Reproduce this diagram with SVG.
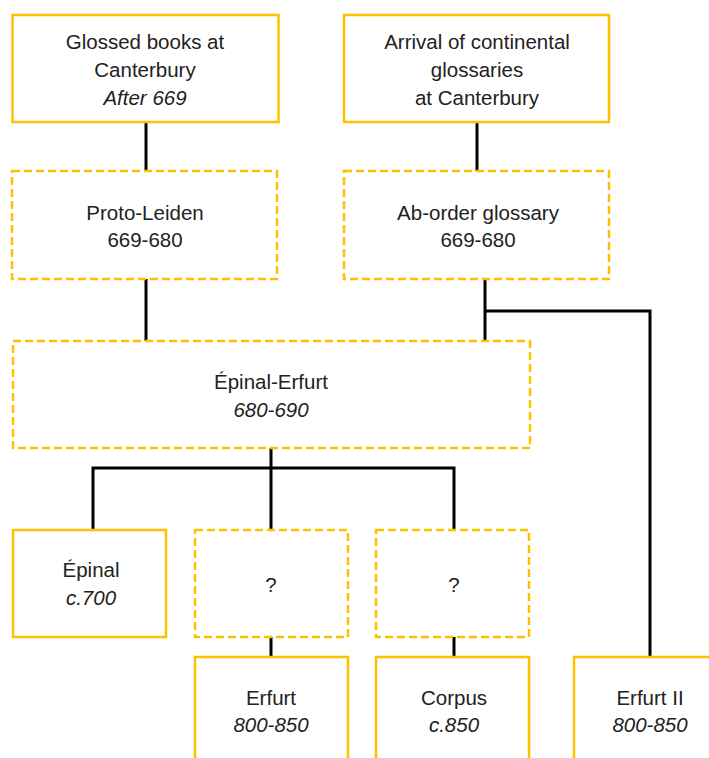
<svg xmlns="http://www.w3.org/2000/svg" width="709" height="758" viewBox="0 0 709 758">
<style>
.box{fill:#fff;stroke:#FFC000;stroke-width:2.5}
.dash{fill:#fff;stroke:#FFC000;stroke-width:2.5;stroke-dasharray:8 4}
.c{fill:none;stroke:#000;stroke-width:3}
text{font-family:"Liberation Sans",Arial,sans-serif;font-size:20.5px;fill:#222;text-anchor:middle}
.i{font-style:italic}
</style>
<rect width="709" height="758" fill="#fff"/>
<g id="connectors">
<line class="c" x1="146" y1="122" x2="146" y2="171"/>
<line class="c" x1="477" y1="122" x2="477" y2="171"/>
<line class="c" x1="146" y1="279" x2="146" y2="341"/>
<line class="c" x1="485" y1="279" x2="485" y2="341"/>
<polyline class="c" points="485,311 650,311 650,657"/>
<line class="c" x1="271" y1="448" x2="271" y2="530"/>
<polyline class="c" points="93,530 93,468 454,468 454,530"/>
<line class="c" x1="271" y1="637" x2="271" y2="657"/>
<line class="c" x1="454" y1="637" x2="454" y2="657"/>
</g>
<g id="glossed">
<rect class="box" x="12.5" y="15" width="266" height="107"/>
<text x="145" y="49">Glossed books at</text>
<text x="145" y="77">Canterbury</text>
<text x="145" y="105" class="i">After 669</text>
</g>
<g id="arrival">
<rect class="box" x="344" y="15" width="265" height="107"/>
<text x="477" y="49">Arrival of continental</text>
<text x="477" y="77">glossaries</text>
<text x="477" y="105">at Canterbury</text>
</g>
<g id="proto-leiden">
<rect class="dash" x="12" y="171" width="265" height="108"/>
<text x="145" y="220">Proto-Leiden</text>
<text x="145" y="247">669-680</text>
</g>
<g id="ab-order">
<rect class="dash" x="344" y="171" width="265" height="108"/>
<text x="478" y="220">Ab-order glossary</text>
<text x="478" y="247">669-680</text>
</g>
<g id="epinal-erfurt">
<rect class="dash" x="13" y="341" width="517" height="107"/>
<text x="271" y="389">Épinal-Erfurt</text>
<text x="271" y="417" class="i">680-690</text>
</g>
<g id="epinal">
<rect class="box" x="13" y="530" width="153" height="107"/>
<text x="91" y="577">Épinal</text>
<text x="91" y="605" class="i">c.700</text>
</g>
<g id="q1">
<rect class="dash" x="195" y="530" width="153" height="107"/>
<text x="271" y="592">?</text>
</g>
<g id="q2">
<rect class="dash" x="376" y="530" width="153" height="107"/>
<text x="454" y="592">?</text>
</g>
<g id="erfurt">
<rect class="box" x="195" y="657" width="153" height="110"/>
<text x="271" y="705">Erfurt</text>
<text x="271" y="732" class="i">800-850</text>
</g>
<g id="corpus">
<rect class="box" x="376" y="657" width="153" height="110"/>
<text x="454" y="705">Corpus</text>
<text x="454" y="732" class="i">c.850</text>
</g>
<g id="erfurt-ii">
<rect class="box" x="574" y="657" width="153" height="110"/>
<text x="650" y="705">Erfurt II</text>
<text x="650" y="732" class="i">800-850</text>
</g>
</svg>
